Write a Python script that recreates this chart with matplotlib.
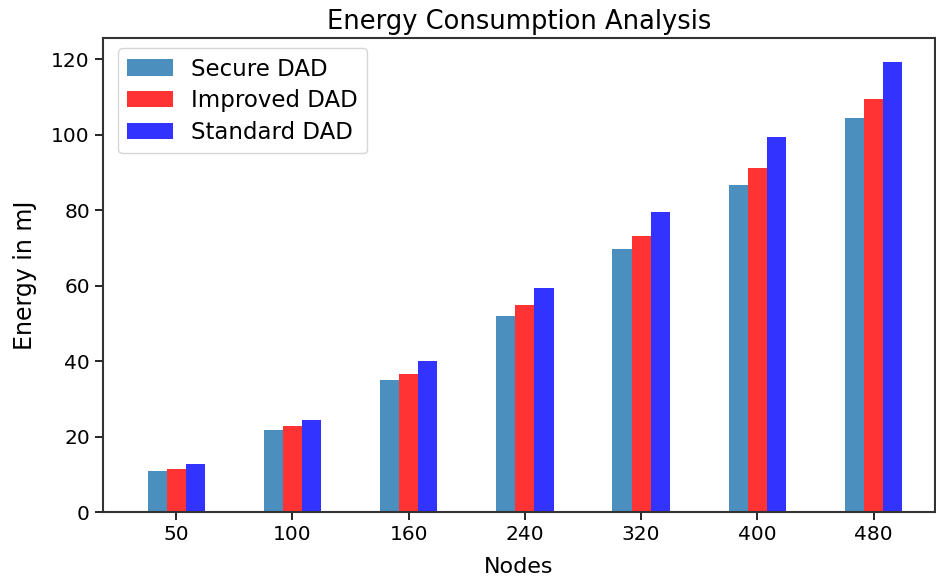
import numpy as np
import matplotlib.pyplot as plt

# Values
nodes = ['50', '100', '160', '240', '320', '400', '480']
secure_dad = [11.0, 21.8, 35.0, 52.0, 69.7, 86.7, 104.5]
improved_dad = [11.5, 22.9, 36.6, 54.9, 73.2, 91.3, 109.5]
standard_dad = [12.8, 24.5, 40.0, 59.4, 79.4, 99.3, 119.2]

plt.rcParams['font.family'] = 'DejaVu Sans'
plt.rcParams['font.size'] = 14.5

fig, ax = plt.subplots(figsize=(9.37, 5.82), dpi=100)
fig.subplots_adjust(left=0.11, right=0.998, top=0.934, bottom=0.12)

x = np.arange(len(nodes))
width = 0.165

ax.bar(x - width, secure_dad, width, color='#4b8fbf', label='Secure DAD')
ax.bar(x, improved_dad, width, color='#ff3333', label='Improved DAD')
ax.bar(x + width, standard_dad, width, color='#3333ff', label='Standard DAD')

ax.set_xticks(x)
ax.set_xticklabels(nodes)
ax.set_xlim(-0.63, 6.53)
ax.set_ylim(0, 125.5)
ax.set_yticks(range(0, 121, 20))

ax.set_title('Energy Consumption Analysis', fontsize=18.5, pad=7)
ax.set_xlabel('Nodes', fontsize=16, labelpad=9)
ax.set_ylabel('Energy in mJ', fontsize=17, labelpad=10)

ax.tick_params(length=6, width=1.2, labelsize=14.5)
for spine in ax.spines.values():
    spine.set_linewidth(1.5)
    spine.set_color('#333333')

ax.legend(loc='upper left', fontsize=16.5, labelspacing=0.38,
          bbox_to_anchor=(0.018, 0.979), borderaxespad=0)

plt.savefig('out.png', dpi=100)
